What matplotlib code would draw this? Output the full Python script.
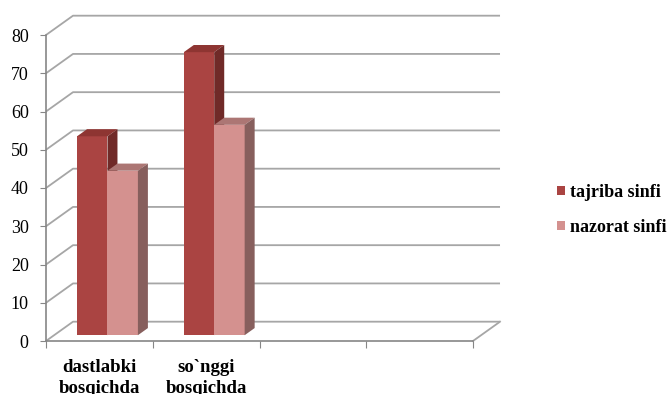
import matplotlib

matplotlib.use("Agg")

import matplotlib.pyplot as plt
from matplotlib.patches import Patch, Polygon

# data
categories = ["dastlabki\nbosqichda", "so`nggi\nbosqichda", "", ""]
series_names = ["tajriba sinfi", "nazorat sinfi"]
tajriba = [52, 74]
nazorat = [43, 55]
y_ticks = [0, 10, 20, 30, 40, 50, 60, 70, 80]

# face colours: front, top, side
colors = {
    "tajriba sinfi": ("#AA4442", "#8E3532", "#702A28"),
    "nazorat sinfi": ("#D4918F", "#AC7674", "#875F5D"),
}

# oblique depth offset of the back wall, in data units
DX, DY = 0.253, 5.05
D_FRONT, D_BACK = 0.30, 0.67
BAR_W = 0.285

plt.rcParams["font.family"] = ["Liberation Serif", "DejaVu Serif"]

fig = plt.figure(figsize=(6.7, 3.94), dpi=100)
ax = fig.add_axes([46 / 670, 53 / 394, 427 / 670, 306 / 394])
ax.set_xlim(0, 4)
ax.set_ylim(0, 80)

grid_c = "#A6A6A6"
axis_c = "#868686"

# walls: slanted left lines and back gridlines
for v in y_ticks:
    ax.plot([0, DX, 4 + DX], [v, v + DY, v + DY], color=grid_c, lw=1.3,
            clip_on=False, zorder=1, solid_capstyle="butt")
ax.plot([4, 4 + DX], [0, DY], color=grid_c, lw=1.3, clip_on=False, zorder=1)


def draw_bar(x0, value, col):
    front, top, side = col
    xf = x0 + D_FRONT * DX
    yf = D_FRONT * DY
    ddx = (D_BACK - D_FRONT) * DX
    ddy = (D_BACK - D_FRONT) * DY
    ax.bar(xf, value, width=BAR_W, bottom=yf, align="edge", color=front,
           edgecolor="none", zorder=3, clip_on=False)
    ax.add_patch(Polygon([(xf, yf + value), (xf + BAR_W, yf + value),
                          (xf + BAR_W + ddx, yf + value + ddy), (xf + ddx, yf + value + ddy)],
                         closed=True, facecolor=top, edgecolor="none", zorder=3, clip_on=False))
    ax.add_patch(Polygon([(xf + BAR_W, yf), (xf + BAR_W + ddx, yf + ddy),
                          (xf + BAR_W + ddx, yf + value + ddy), (xf + BAR_W, yf + value)],
                         closed=True, facecolor=side, edgecolor="none", zorder=3, clip_on=False))


for i in range(len(tajriba)):
    left = i + 0.5 - BAR_W
    draw_bar(left, tajriba[i], colors["tajriba sinfi"])
    draw_bar(left + BAR_W, nazorat[i], colors["nazorat sinfi"])

# axes styling
for s in ["top", "right"]:
    ax.spines[s].set_visible(False)
for s in ["left", "bottom"]:
    ax.spines[s].set_color(axis_c)
    ax.spines[s].set_linewidth(1.2)

ax.set_yticks(y_ticks)
ax.set_yticklabels([str(t) for t in y_ticks], fontsize=13)
ax.tick_params(axis="y", direction="out", length=4, color=axis_c, pad=8.5)

ax.set_xticks([0, 1, 2, 3, 4])
ax.set_xticklabels([])
ax.tick_params(axis="x", which="major", direction="out", length=5, color=axis_c)
ax.set_xticks([0.5, 1.5, 2.5, 3.5], minor=True)
ax.set_xticklabels(categories, minor=True, fontsize=13.5, fontweight="bold",
                   linespacing=1.3, va="top", multialignment="center")
ax.tick_params(axis="x", which="minor", length=0, pad=13)

handles = [Patch(facecolor=colors[n][0], edgecolor="none") for n in series_names]
fig.legend(handles, series_names, loc="center left", bbox_to_anchor=(557 / 670, 0.467),
           frameon=False, borderaxespad=0, borderpad=0, handlelength=0.45,
           handleheight=0.45, handletextpad=0.28, labelspacing=1.0,
           prop={"weight": "bold", "size": 13})

fig.savefig("out.png", dpi=100)
